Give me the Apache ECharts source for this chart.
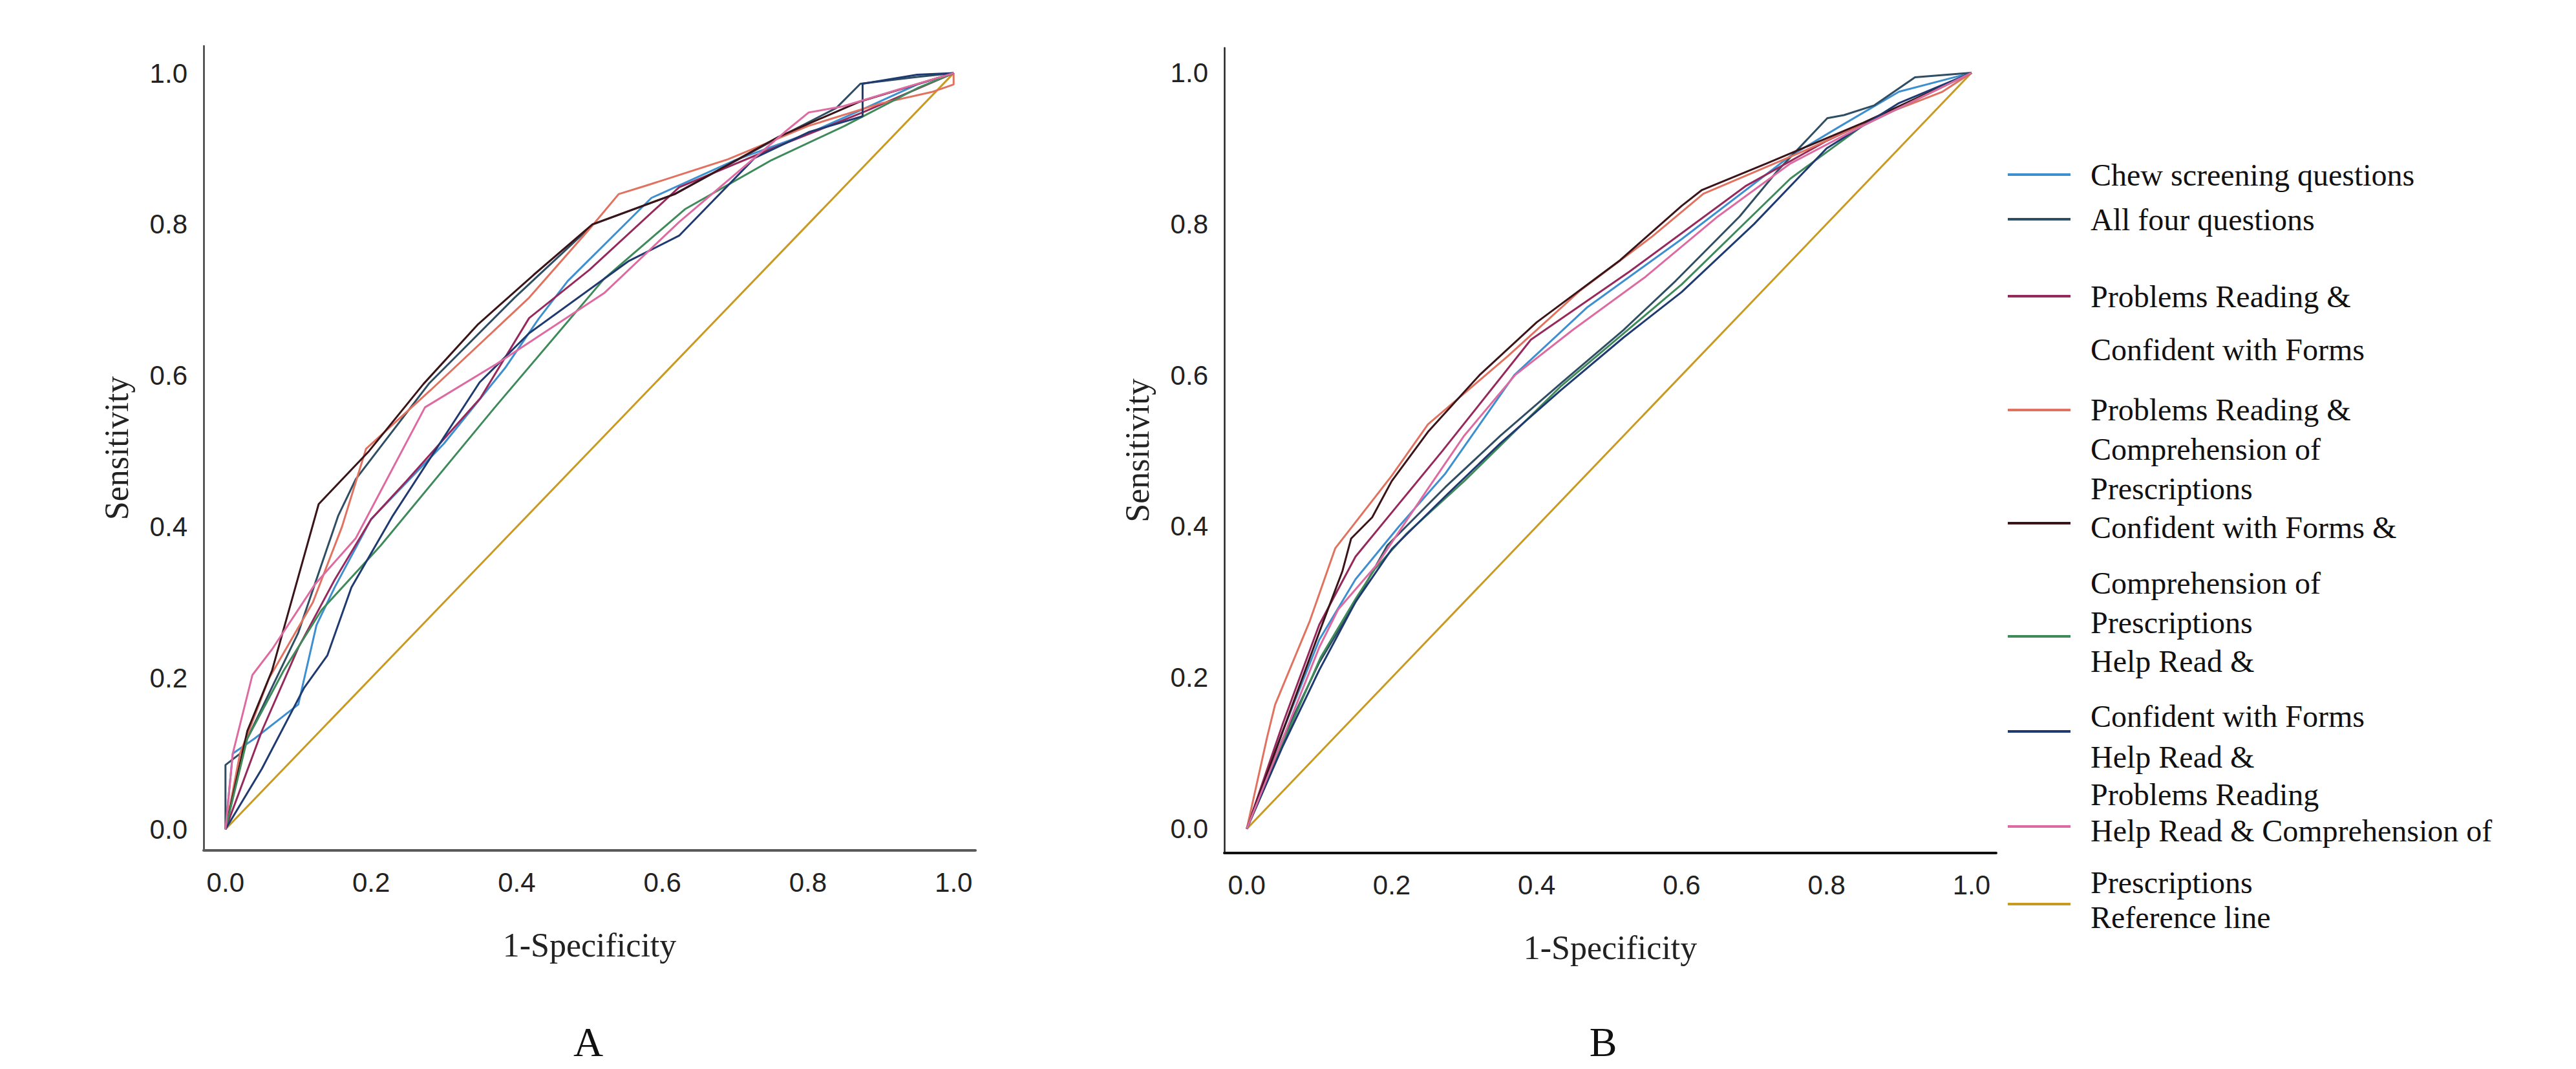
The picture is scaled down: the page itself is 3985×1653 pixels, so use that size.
<!DOCTYPE html>
<html>
<head>
<meta charset="utf-8">
<title>ROC curves A / B</title>
<script src="https://cdn.jsdelivr.net/npm/echarts@6/dist/echarts.min.js"></script>
<style>
  html, body { margin: 0; padding: 0; background: #fff; }
  #chart { width: 3985px; height: 1653px; }
</style>
</head>
<body>
<div id="chart"></div>
<script>
// legend order
const seriesNames = [
  'Chew screening questions',
  'All four questions',
  'Problems Reading & Confident with Forms',
  'Problems Reading & Comprehension of Prescriptions',
  'Confident with Forms & Comprehension of Prescriptions',
  'Help Read & Confident with Forms',
  'Help Read & Problems Reading',
  'Help Read & Comprehension of Prescriptions',
  'Reference line'
];
const tickValues = [0, 0.2, 0.4, 0.6, 0.8, 1.0];

// panel A, points are [1-specificity, sensitivity]
const chewA = [[0,0],[0.01,0.1],[0.04,0.12],[0.1,0.165],[0.125,0.27],[0.15,0.32],[0.2,0.41],[0.3,0.51],[0.384,0.61],[0.43,0.675],[0.47,0.725],[0.585,0.835],[0.7,0.885],[0.8,0.92],[0.87,0.95],[0.95,0.985],[1,1]];
const allFourA = [[0,0],[0,0.085],[0.02,0.1],[0.06,0.18],[0.1,0.26],[0.155,0.415],[0.179,0.463],[0.28,0.59],[0.397,0.703],[0.505,0.8],[0.617,0.84],[0.76,0.915],[0.839,0.954],[0.872,0.986],[0.95,0.995],[1,1]];
const readFormsA = [[0,0],[0.05,0.13],[0.1,0.24],[0.15,0.33],[0.2,0.41],[0.248,0.46],[0.35,0.57],[0.417,0.676],[0.5,0.74],[0.623,0.849],[0.75,0.9],[0.875,0.948],[1,1]];
const readCompA = [[0,0],[0.02,0.1],[0.06,0.2],[0.12,0.3],[0.16,0.4],[0.193,0.503],[0.282,0.581],[0.417,0.703],[0.5,0.794],[0.54,0.84],[0.577,0.851],[0.69,0.886],[0.8,0.93],[0.9,0.96],[0.97,0.975],[1,0.985],[1,1]];
const formsCompA = [[0,0],[0.03,0.13],[0.064,0.21],[0.128,0.43],[0.197,0.5],[0.272,0.589],[0.347,0.668],[0.423,0.733],[0.504,0.8],[0.617,0.84],[0.76,0.916],[0.87,0.962],[1,1]];
const helpFormsA = [[0,0],[0.03,0.12],[0.08,0.21],[0.132,0.29],[0.213,0.375],[0.37,0.558],[0.52,0.728],[0.631,0.82],[0.75,0.885],[0.85,0.93],[0.95,0.98],[1,1]];
const helpReadA = [[0,0],[0.05,0.08],[0.108,0.187],[0.14,0.23],[0.173,0.32],[0.23,0.415],[0.349,0.591],[0.417,0.656],[0.553,0.751],[0.623,0.785],[0.727,0.888],[0.801,0.922],[0.875,0.943],[0.875,0.986],[0.95,0.998],[1,1]];
const helpCompA = [[0,0],[0.01,0.1],[0.037,0.204],[0.064,0.238],[0.123,0.324],[0.179,0.385],[0.274,0.558],[0.37,0.614],[0.52,0.709],[0.623,0.803],[0.768,0.922],[0.801,0.948],[0.848,0.956],[0.93,0.98],[1,1]];

// panel B
const chewB = [[0,0],[0.05,0.13],[0.1,0.25],[0.15,0.33],[0.21,0.4],[0.274,0.47],[0.369,0.6],[0.47,0.69],[0.6,0.78],[0.75,0.89],[0.82,0.93],[0.9,0.975],[1,1]];
const allFourB = [[0,0],[0.05,0.12],[0.1,0.22],[0.15,0.3],[0.194,0.375],[0.274,0.452],[0.35,0.52],[0.433,0.589],[0.52,0.66],[0.592,0.725],[0.68,0.81],[0.732,0.87],[0.801,0.94],[0.824,0.944],[0.866,0.957],[0.922,0.994],[1,1]];
const readFormsB = [[0,0],[0.05,0.14],[0.1,0.27],[0.15,0.36],[0.21,0.43],[0.27,0.5],[0.392,0.647],[0.528,0.737],[0.688,0.85],[0.8,0.91],[0.9,0.955],[1,1]];
const readCompB = [[0,0],[0.028,0.121],[0.039,0.164],[0.087,0.275],[0.122,0.371],[0.2,0.467],[0.25,0.535],[0.36,0.625],[0.46,0.712],[0.56,0.784],[0.63,0.84],[0.777,0.9],[0.866,0.94],[0.96,0.975],[1,1]];
const formsCompB = [[0,0],[0.05,0.13],[0.1,0.26],[0.132,0.341],[0.144,0.384],[0.173,0.412],[0.2,0.46],[0.25,0.525],[0.321,0.6],[0.4,0.67],[0.515,0.752],[0.6,0.824],[0.628,0.845],[0.717,0.88],[0.851,0.934],[1,1]];
const helpFormsB = [[0,0],[0.043,0.098],[0.102,0.227],[0.15,0.304],[0.177,0.344],[0.22,0.39],[0.3,0.46],[0.433,0.585],[0.6,0.72],[0.75,0.86],[0.85,0.93],[1,1]];
const helpReadB = [[0,0],[0.05,0.11],[0.1,0.21],[0.15,0.3],[0.2,0.37],[0.274,0.44],[0.35,0.51],[0.433,0.58],[0.52,0.65],[0.6,0.71],[0.7,0.8],[0.8,0.9],[0.9,0.96],[1,1]];
const helpCompB = [[0,0],[0.05,0.12],[0.1,0.24],[0.126,0.29],[0.18,0.35],[0.25,0.45],[0.3,0.52],[0.37,0.6],[0.45,0.66],[0.55,0.73],[0.65,0.81],[0.75,0.88],[0.85,0.93],[1,1]];

const refLine = [[0,0],[1,1]];

// legend text, one array of wrapped lines per entry
const legendText = [
  ['Chew screening questions'],
  ['All four questions'],
  ['Problems Reading &', 'Confident with Forms'],
  ['Problems Reading &', 'Comprehension of', 'Prescriptions'],
  ['Confident with Forms &', 'Comprehension of', 'Prescriptions'],
  ['Help Read &', 'Confident with Forms'],
  ['Help Read &', 'Problems Reading'],
  ['Help Read & Comprehension of', 'Prescriptions'],
  ['Reference line']
];

const panelA = [chewA, allFourA, readFormsA, readCompA, formsCompA, helpFormsA, helpReadA, helpCompA, refLine];
const panelB = [chewB, allFourB, readFormsB, readCompB, formsCompB, helpFormsB, helpReadB, helpCompB, refLine];

const colors = ['#3d8fd0', '#2f4d63', '#96285c', '#e0725f', '#3a1418', '#3f8a5a', '#1f3a70', '#dd6aa0', '#c99a22'];

// legend layout (the original wraps oddly, keys and text don't line up)
const legendKeyY = [270, 339, 458, 634, 809, 984, 1131, 1278, 1398];
const legendTextY = [[270], [339], [458, 540], [633, 694, 755], [815, 901, 962], [1022, 1107], [1170, 1228], [1284, 1364], [1418]];

const serif = '"Liberation Serif", "Times New Roman", serif';
const sans = '"Liberation Sans", Arial, sans-serif';

function makeX(idx, lineColor) {
  return {
    gridIndex: idx,
    type: 'value',
    min: idx === 0 ? -0.03 : -0.031,
    max: idx === 0 ? 1.03 : 1.034,
    splitLine: { show: false },
    axisTick: { show: false },
    axisLine: { onZero: false, lineStyle: { color: lineColor, width: 4 } },
    axisLabel: {
      customValues: tickValues,
      formatter: v => v.toFixed(1),
      color: '#222', fontSize: 42, fontFamily: sans, margin: 28
    },
    name: '1-Specificity',
    nameLocation: 'middle',
    nameGap: 120,
    nameTextStyle: { color: '#222', fontSize: 52, fontFamily: serif }
  };
}

function makeY(idx, lineColor) {
  return {
    gridIndex: idx,
    type: 'value',
    min: idx === 0 ? -0.028 : -0.032,
    max: idx === 0 ? 1.036 : 1.033,
    splitLine: { show: false },
    axisTick: { show: false },
    axisLine: { onZero: false, lineStyle: { color: lineColor, width: 2.5 } },
    axisLabel: {
      customValues: tickValues,
      formatter: v => v.toFixed(1),
      color: '#222', fontSize: 42, fontFamily: sans, margin: 25
    },
    name: 'Sensitivity',
    nameLocation: 'middle',
    nameGap: 109,
    nameTextStyle: { color: '#222', fontSize: 52, fontFamily: serif }
  };
}

const series = [];
[panelA, panelB].forEach((panel, p) => {
  panel.forEach((data, i) => {
    series.push({
      type: 'line',
      name: seriesNames[i],
      xAxisIndex: p,
      yAxisIndex: p,
      data: data,
      symbol: 'none',
      silent: true,
      z: i === 8 ? 1 : 2,
      lineStyle: { color: colors[i], width: 3 },
      itemStyle: { color: colors[i] }
    });
  });
});

const graphic = [];
legendText.forEach((lines, i) => {
  graphic.push({
    type: 'line',
    shape: { x1: 3106, y1: legendKeyY[i], x2: 3203, y2: legendKeyY[i] },
    style: { stroke: colors[i], lineWidth: 4 }
  });
  lines.forEach((t, j) => {
    graphic.push({
      type: 'text',
      x: 3234,
      y: legendTextY[i][j],
      style: { text: t, fill: '#111', fontSize: 48, fontFamily: serif, verticalAlign: 'middle' }
    });
  });
});
graphic.push({
  type: 'text', x: 910, y: 1611,
  style: { text: 'A', fill: '#111', fontSize: 64, fontFamily: serif, align: 'center', verticalAlign: 'middle' }
});
graphic.push({
  type: 'text', x: 2480, y: 1611,
  style: { text: 'B', fill: '#111', fontSize: 64, fontFamily: serif, align: 'center', verticalAlign: 'middle' }
});

const chart = echarts.init(document.getElementById('chart'), null, { renderer: 'svg' });
chart.setOption({
  animation: false,
  backgroundColor: '#fff',
  grid: [
    { left: 315, top: 71, width: 1194, height: 1244 },
    { left: 1894, top: 74, width: 1194, height: 1245 }
  ],
  xAxis: [makeX(0, '#5a5a5a'), makeX(1, '#111')],
  yAxis: [makeY(0, '#3a3a3a'), makeY(1, '#222')],
  series: series,
  graphic: graphic
});
window.addEventListener('resize', chart.resize);
</script>
</body>
</html>
